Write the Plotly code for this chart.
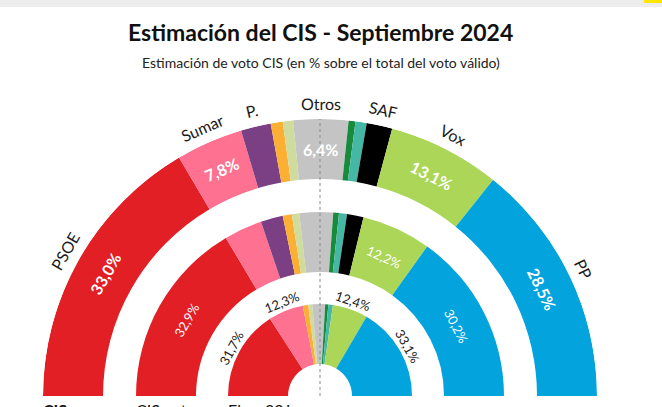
import math
import plotly.graph_objects as go

# ---------------- data ----------------
parties = ["PSOE", "Sumar", "Podemos", "ERC", "Bildu", "Otros", "PNV", "Junts", "SAF", "Vox", "PP"]
party_labels = ["PSOE", "Sumar", "P.", "", "", "Otros", "", "", "SAF", "Vox", "PP"]
colors = ["#e11f25", "#fe7191", "#7b3f83", "#fbb034", "#cfdc9e", "#c4c4c4",
          "#178a3c", "#45b8a5", "#000000", "#acd657", "#03a3dd"]

cis_sep = [33.0, 7.8, 3.5, 1.4, 1.2, 6.4, 0.8, 1.3, 3.0, 13.1, 28.5]
cis_prev = [32.9, 6.7, 3.9, 1.6, 1.3, 5.9, 1.0, 1.4, 2.9, 12.2, 30.2]
elec_23j = [31.7, 12.3, 0.0, 1.9, 1.4, 4.5, 1.1, 1.6, 0.0, 12.4, 33.1]

ring_names = ["CIS", "CIS ant.", "Elec. 23J"]
outer_shown = ["PSOE", "Sumar", "Otros", "Vox", "PP"]
middle_shown = ["PSOE", "Vox", "PP"]
inner_shown = ["PSOE", "Sumar", "Vox", "PP"]

# ---------------- geometry / style ----------------
W, H = 662, 407
R = 277
CX, BASE_Y = 320, 396
rings = [  # (values, inner radius, thickness)
    (cis_sep, 217, 60),
    (cis_prev, 124, 60),
    (elec_23j, 32, 60),
]
FONT = "Lato"

dom_x = [(CX - R) / W, (CX + R) / W]
dom_y = [(H - BASE_Y) / H, (H - BASE_Y + R) / H]


def fmt(v):
    return f"{v:.1f}".replace(".", ",") + "%"


def mids(values):
    out, cum = [], 0.0
    for v in values:
        out.append(cum + v / 2)
        cum += v
    return out


fig = go.Figure()

for values, base, thick in rings:
    m = mids(values)
    fig.add_trace(go.Barpolar(
        r=[thick] * len(values),
        base=[base] * len(values),
        theta=[x * 1.8 for x in m],
        width=[v * 1.8 for v in values],
        marker=dict(color=colors, line=dict(width=0)),
        hoverinfo="skip", showlegend=False,
    ))

fig.add_trace(go.Scatterpolar(
    r=[0, R], theta=[90, 90], mode="lines",
    line=dict(color="#8a8a8a", width=1, dash="3px,3px"),
    hoverinfo="skip", showlegend=False,
))

# invisible cartesian overlay (1 unit = 1 px, origin at the arcs' centre) for text positions
fig.add_trace(go.Scatter(x=[0], y=[0], mode="markers", marker=dict(opacity=0),
                         hoverinfo="skip", showlegend=False))

annotations = []


def arc_label(pct_mid, r, text, size, color, bold=False):
    phi = 180 - pct_mid * 1.8
    x = r * math.cos(math.radians(phi))
    y = r * math.sin(math.radians(phi))
    t = f"<b>{text}</b>" if bold else text
    annotations.append(dict(
        x=x, y=y, xref="x", yref="y", text=t, showarrow=False,
        textangle=90 - phi, xanchor="center", yanchor="middle",
        font=dict(family=FONT, size=size, color=color),
    ))


m_out = mids(cis_sep)
for i, lab in enumerate(party_labels):
    if lab:
        arc_label(m_out[i], 293, lab, 16, "#1a1a1a")
for i, p in enumerate(parties):
    if p in outer_shown:
        arc_label(m_out[i], 247, fmt(cis_sep[i]), 16, "white", bold=True)

m_mid = mids(cis_prev)
for i, p in enumerate(parties):
    if p in middle_shown:
        arc_label(m_mid[i], 153, fmt(cis_prev[i]), 13, "white")

m_in = mids(elec_23j)
for i, p in enumerate(parties):
    if p in inner_shown:
        arc_label(m_in[i], 101, fmt(elec_23j[i]), 13, "#1a1a1a")

# ring names under the left edge of each ring
for (values, base, thick), name in zip(rings, ring_names):
    t = f"<b>{name}</b>" if name == "CIS" else name
    annotations.append(dict(
        x=-(base + thick), y=0, xref="x", yref="y", text=t, showarrow=False,
        xanchor="left", yanchor="top", yshift=-2, xshift=-2,
        font=dict(family=FONT, size=16, color="#111111"),
    ))

annotations.append(dict(
    x=320 / W, y=1 - 32 / H, xref="paper", yref="paper", showarrow=False,
    text="<b>Estimación del CIS - Septiembre 2024</b>", xanchor="center", yanchor="middle",
    font=dict(family=FONT, size=23, color="#111111"),
))
annotations.append(dict(
    x=320.5 / W, y=1 - 62 / H, xref="paper", yref="paper", showarrow=False,
    text="Estimación de voto CIS (en % sobre el total del voto válido)",
    xanchor="center", yanchor="middle",
    font=dict(family=FONT, size=14, color="#222222"),
))

fig.update_layout(
    width=W, height=H,
    margin=dict(l=0, r=0, t=0, b=0),
    paper_bgcolor="white", plot_bgcolor="rgba(0,0,0,0)",
    showlegend=False,
    polar=dict(
        domain=dict(x=dom_x, y=dom_y),
        sector=[0, 180], hole=0,
        bgcolor="rgba(0,0,0,0)",
        radialaxis=dict(range=[0, R], visible=False),
        angularaxis=dict(visible=False, rotation=180, direction="clockwise"),
    ),
    xaxis=dict(domain=[0, 1], range=[-CX, W - CX], visible=False, fixedrange=True),
    yaxis=dict(domain=[0, 1], range=[-(H - BASE_Y), BASE_Y], visible=False, fixedrange=True),
    annotations=annotations,
    shapes=[
        dict(type="rect", xref="paper", yref="paper", x0=0, x1=1, y0=1 - 7 / H, y1=1,
             fillcolor="#ececec", line=dict(width=0), layer="below"),
        dict(type="rect", xref="paper", yref="paper", x0=644 / W, x1=1, y0=1 - 3 / H, y1=1,
             fillcolor="#ffe500", line=dict(width=0), layer="above"),
    ],
)

fig.write_html("out.html", config={"displayModeBar": False},
               post_script="document.body.style.margin='0';")
